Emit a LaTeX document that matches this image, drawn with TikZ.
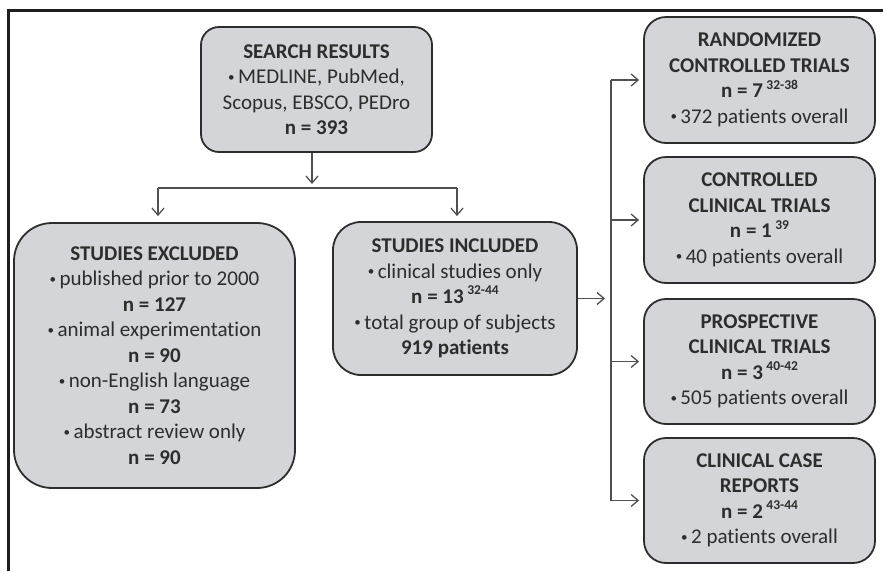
\documentclass[tikz,border=0pt]{standalone}
\usepackage{fontspec}
\usepackage{graphicx}
\setmainfont{Carlito}[Ligatures=NoCommon]
\usetikzlibrary{arrows.meta,calc}
\definecolor{boxfill}{RGB}{212,213,216}
\definecolor{boxline}{RGB}{45,45,45}
\definecolor{txt}{RGB}{45,45,45}
\definecolor{conn}{RGB}{80,80,80}
\definecolor{framecol}{RGB}{30,30,30}
\newcommand\refsup[1]{\,\raisebox{0.42em}{\fontsize{13.5}{13.5}\selectfont\bfseries #1}}
\newcommand\bul{\raisebox{0.12em}{\scalebox{0.62}{•}}\,}
\begin{document}
\begin{tikzpicture}[x=1pt,y=-1pt,
  flowbox/.style={draw=boxline, line width=1.8pt, fill=boxfill, align=center, text=txt, inner sep=0pt, font=\fontsize{21}{25.5}\selectfont},
  arr/.style={draw=conn, line width=1.3pt, -{Straight Barb[length=7pt,width=12pt]}},
  conline/.style={draw=conn, line width=1.3pt}]
\useasboundingbox (0,0) rectangle (883,571);
\draw[framecol, line width=2.8pt] (883,10.5) -- (8.5,10.5) -- (8.5,571);

\node[flowbox, minimum width=231pt, minimum height=125pt, rounded corners=18pt] (search) at (316.5,89.5)
  {\textbf{SEARCH RESULTS}\\\bul MEDLINE, PubMed,\\Scopus, EBSCO, PEDro\\\textbf{n = 393}};
\node[flowbox, minimum width=281pt, minimum height=265pt, rounded corners=38pt] (excl) at (154.5,355.5)
  {\textbf{STUDIES EXCLUDED}\\\bul published prior to 2000\\\textbf{n = 127}\\\bul animal experimentation\\\textbf{n = 90}\\\bul non-English language\\\textbf{n = 73}\\\bul abstract review only\\\textbf{n = 90}};
\node[flowbox, minimum width=244pt, minimum height=153pt, rounded corners=28pt] (incl) at (455,298.5)
  {\textbf{STUDIES INCLUDED}\\\bul clinical studies only\\\textbf{n = 13}\refsup{32-44}\\\bul total group of subjects\\\textbf{919 patients}};
\node[flowbox, minimum width=231pt, minimum height=126pt, rounded corners=22pt] (r1) at (759.5,80)
  {\textbf{RANDOMIZED}\\\textbf{CONTROLLED TRIALS}\\\textbf{n = 7}\refsup{32-38}\\\bul 372 patients overall};
\node[flowbox, minimum width=231pt, minimum height=126pt, rounded corners=22pt] (r2) at (759.5,220)
  {\textbf{CONTROLLED}\\\textbf{CLINICAL TRIALS}\\\textbf{n = 1}\refsup{39}\\\bul 40 patients overall};
\node[flowbox, minimum width=231pt, minimum height=125pt, rounded corners=22pt] (r3) at (759.5,361.5)
  {\textbf{PROSPECTIVE}\\\textbf{CLINICAL TRIALS}\\\textbf{n = 3}\refsup{40-42}\\\bul 505 patients overall};
\node[flowbox, minimum width=231pt, minimum height=125pt, rounded corners=22pt] (r4) at (759.5,500.5)
  {\textbf{CLINICAL CASE}\\\textbf{REPORTS}\\\textbf{n = 2}\refsup{43-44}\\\bul 2 patients overall};

\coordinate (j) at (312,188);
\coordinate (jl) at (158,188);
\coordinate (jr) at (457,188);
\draw[arr, shorten >=4pt] (search.south -| j) -- (j);
\draw[conline] (jl) -- (jr);
\draw[arr, shorten >=6pt] (jl) -- (jl |- excl.north);
\draw[arr, shorten >=5pt] (jr) -- (jr |- incl.north);

\coordinate (t) at (611,298.5);
\draw[arr, shorten >=6pt] (incl.east) -- (t);
\draw[conline] (t |- r1.west) -- (t |- r4.west);
\foreach \n in {r1,r2,r3,r4} \draw[arr, shorten >=4pt] (t |- \n.west) -- (\n.west);
\end{tikzpicture}
\end{document}
